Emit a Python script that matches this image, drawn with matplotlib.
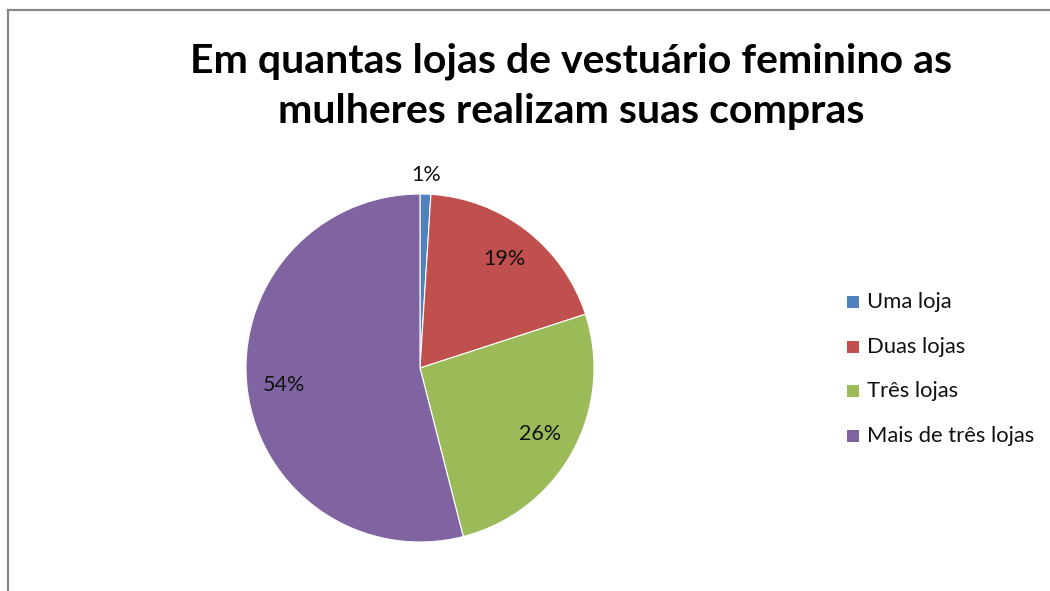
import matplotlib
matplotlib.use("Agg")
import matplotlib.pyplot as plt
import numpy as np
from matplotlib.lines import Line2D
from matplotlib.patches import Rectangle

categories = ["Uma loja", "Duas lojas", "Três lojas", "Mais de três lojas"]
values = [1, 19, 26, 54]
colors = ["#4F81BD", "#C0504D", "#9BBB59", "#8064A2"]
title = "Em quantas lojas de vestuário feminino as\nmulheres realizam suas compras"

W, H = 1050, 591
fig = plt.figure(figsize=(W / 100, H / 100), dpi=100)
fig.patch.set_facecolor("white")

cx, cy, r = 420, 368, 174
ax = fig.add_axes([(cx - r) / W, (H - cy - r) / H, 2 * r / W, 2 * r / H])
wedges, texts, autotexts = ax.pie(
    values, colors=colors, startangle=90, counterclock=False,
    autopct="%1.0f%%", pctdistance=0.79,
    textprops=dict(fontsize=15.5, family="Lato", color="#111111"),
    wedgeprops=dict(linewidth=0.8, edgecolor="white"),
)
ax.set_xlim(-1, 1)
ax.set_ylim(-1, 1)
ax.set_aspect("equal")
ax.axis("off")

# move small slice label outside
for w, t, v in zip(wedges, autotexts, values):
    if v < 5:
        ang = np.deg2rad((w.theta1 + w.theta2) / 2)
        t.set_position((1.1 * np.cos(ang), 1.11 * np.sin(ang)))

fig.text(571 / W, 1 - 86 / H, title, ha="center", va="center",
         fontsize=29.5, fontweight="bold", family="Lato", linespacing=1.42)

# legend
ys = [302, 347, 391, 436]
for cat, col, y in zip(categories, colors, ys):
    fig.add_artist(Rectangle(((853 - 6) / W, 1 - (y + 6) / H), 12 / W, 12 / H,
                             transform=fig.transFigure, facecolor=col, edgecolor="none"))
    fig.text(867 / W, 1 - y / H, cat, ha="left", va="center", fontsize=15.8,
             family="Lato", color="#111111")

# chart frame (left and top border)
fig.add_artist(Line2D([8 / W, 8 / W], [0, 1 - 10 / H], transform=fig.transFigure,
                      color="#878787", linewidth=1.6))
fig.add_artist(Line2D([8 / W, 1], [1 - 10 / H, 1 - 10 / H], transform=fig.transFigure,
                      color="#878787", linewidth=1.6))

fig.savefig("out.png", dpi=100)
